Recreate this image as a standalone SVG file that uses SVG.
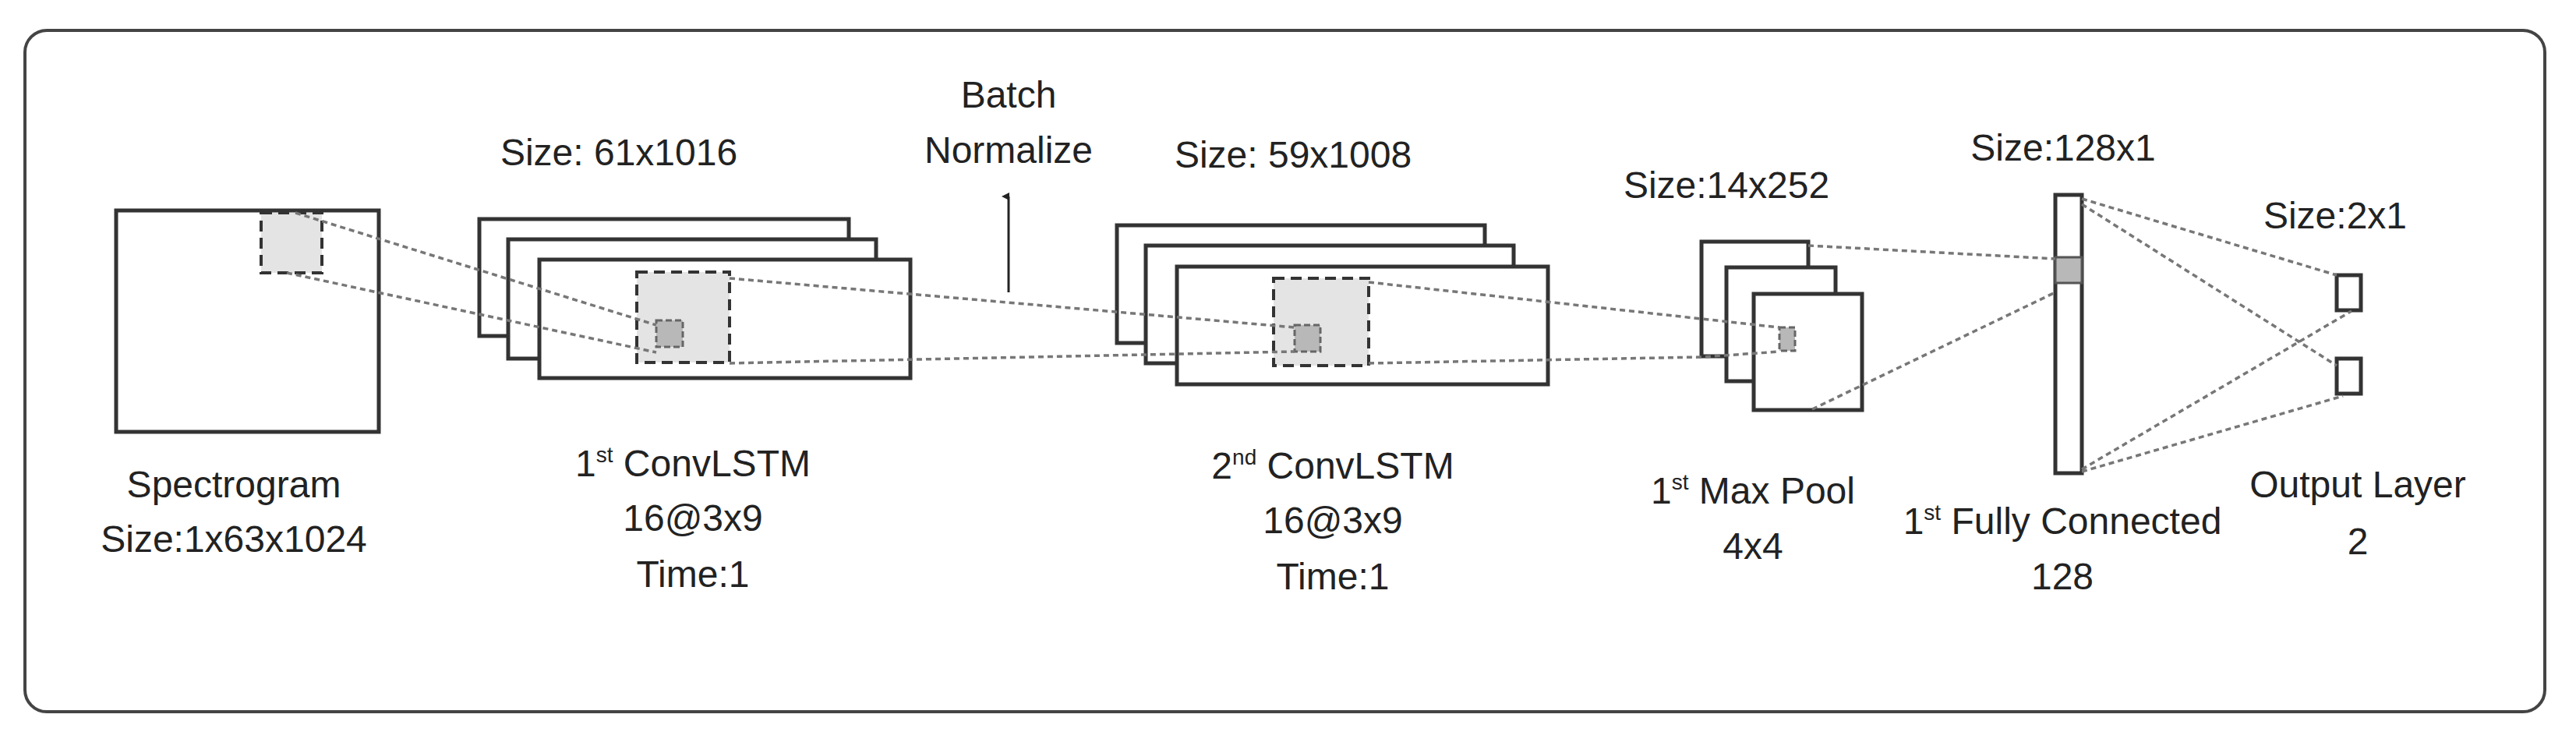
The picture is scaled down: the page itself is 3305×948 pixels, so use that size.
<svg xmlns="http://www.w3.org/2000/svg" width="3305" height="948" viewBox="0 0 3305 948">
<style>
.r{fill:#fff;stroke:#333;stroke-width:5}
.db{fill:#e4e4e4;stroke:#333;stroke-width:4;stroke-dasharray:14 8}
.sb{fill:#b8b8b8;stroke:#666;stroke-width:3;stroke-dasharray:8 4}
.c{stroke:#777;stroke-width:3.5;stroke-dasharray:7 5;fill:none}
text{font-family:"Liberation Sans",Arial,sans-serif;font-size:48px;fill:#222;text-anchor:middle}
.sup{font-size:28px}
</style>
<defs><marker id="ah" markerWidth="10" markerHeight="10" refX="5" refY="9" orient="auto" markerUnits="userSpaceOnUse" viewBox="0 0 10 10"><path d="M0,10 L5,0 L10,10 Z" fill="#222"/></marker></defs>
<rect x="32" y="39" width="3233" height="874" rx="28" fill="#fff" stroke="#444" stroke-width="4"/>
<g id="spectrogram"><rect class="r" x="149" y="270" width="337" height="284"/><rect class="db" x="335" y="273" width="78" height="77"/>
<text x="300" y="638">Spectrogram</text><text x="300" y="708">Size:1x63x1024</text></g>
<g id="conv1"><rect class="r" x="615" y="281" width="474" height="150"/><rect class="r" x="652" y="307" width="472" height="153"/><rect class="r" x="692" y="333" width="476" height="152"/>
<rect class="db" x="817" y="349" width="119" height="116"/><rect class="sb" x="842" y="411" width="34" height="34"/>
<text x="794" y="212">Size: 61x1016</text>
<text x="889" y="611">1<tspan class="sup" dy="-18">st</tspan><tspan dy="18"> ConvLSTM</tspan></text><text x="889" y="681">16@3x9</text><text x="889" y="753">Time:1</text></g>
<g id="batchnorm"><text x="1294" y="138">Batch</text><text x="1294" y="209">Normalize</text></g>
<g id="conv2"><rect class="r" x="1433" y="289" width="472" height="151"/><rect class="r" x="1470" y="315" width="472" height="151"/><rect class="r" x="1510" y="342" width="476" height="151"/>
<rect class="db" x="1634" y="357" width="122" height="112"/><rect class="sb" x="1661" y="417" width="33" height="34"/>
<text x="1659" y="215">Size: 59x1008</text>
<text x="1710" y="614">2<tspan class="sup" dy="-18">nd</tspan><tspan dy="18"> ConvLSTM</tspan></text><text x="1710" y="684">16@3x9</text><text x="1710" y="756">Time:1</text></g>
<g id="maxpool"><rect class="r" x="2183" y="310" width="137" height="147"/><rect class="r" x="2215" y="343" width="140" height="146"/><rect class="r" x="2250" y="377" width="139" height="149"/>
<rect class="sb" x="2283" y="420" width="20" height="30"/>
<text x="2215" y="254">Size:14x252</text>
<text x="2249" y="646">1<tspan class="sup" dy="-18">st</tspan><tspan dy="18"> Max Pool</tspan></text><text x="2249" y="717">4x4</text></g>
<g id="fc"><rect class="r" x="2637" y="250" width="34" height="357"/><rect x="2637" y="330" width="34" height="33" fill="#b8b8b8" stroke="#555" stroke-width="3"/>
<text x="2647" y="206">Size:128x1</text>
<text x="2646" y="685">1<tspan class="sup" dy="-18">st</tspan><tspan dy="18"> Fully Connected</tspan></text><text x="2646" y="756">128</text></g>
<g id="output"><rect class="r" x="2998" y="353" width="31" height="45"/><rect class="r" x="2998" y="460" width="31" height="45"/>
<text x="2996" y="293">Size:2x1</text><text x="3025" y="638">Output Layer</text><text x="3025" y="711">2</text></g>
<g id="connectors">
<path class="c" d="M379,273 L842,417 M368,350 L842,452"/>
<path class="c" d="M936,357 L1661,420 M936,466 L1661,451"/>
<path class="c" d="M1756,362 L2283,420 M1756,466 L2183,458 L2283,451"/>
<path class="c" d="M2320,315 L2637,332 M2325,525 L2637,375"/>
<path class="c" d="M2671,255 L2998,353 M2671,262 L2998,469 M2671,602 L3017,399 M2671,605 L3006,508"/>
<line x1="1294" y1="375" x2="1294" y2="252" stroke="#222" stroke-width="3" marker-end="url(#ah)"/>
</g>
</svg>
